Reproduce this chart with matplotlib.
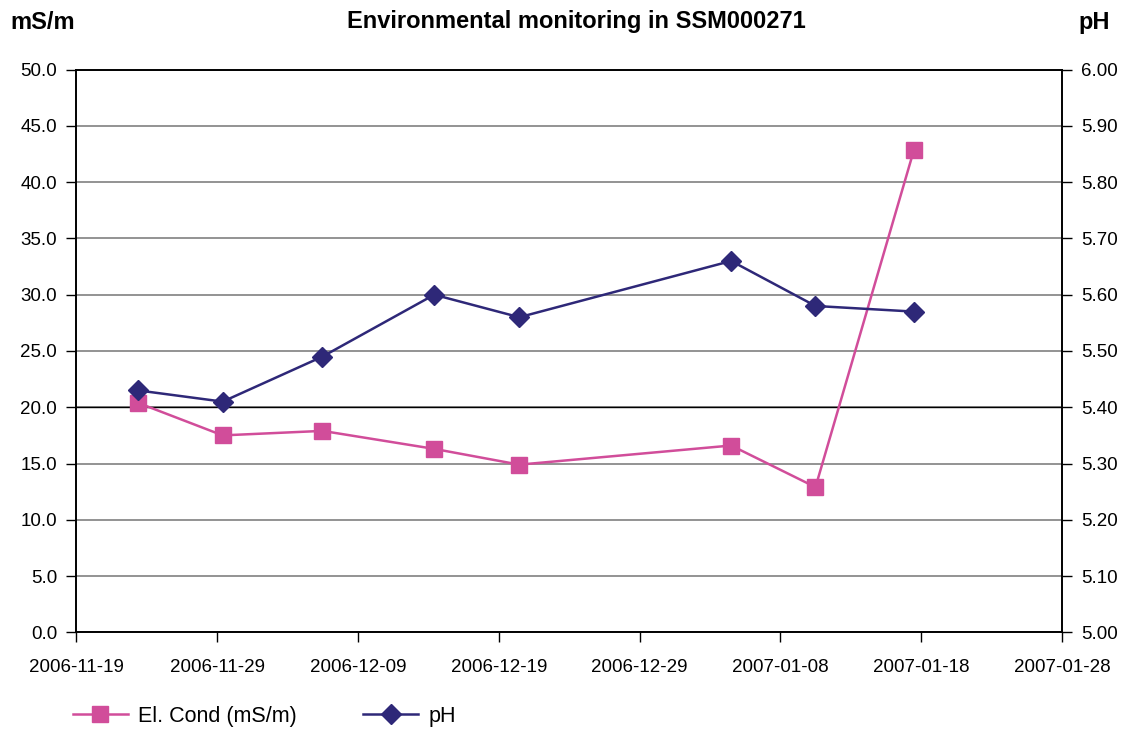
import numpy as np
import pandas as pd
import matplotlib
matplotlib.use("Agg")
import matplotlib.pyplot as plt
import matplotlib.dates as mdates
from matplotlib.ticker import FormatStrFormatter, MultipleLocator

plt.rcParams['font.family'] = ['Liberation Sans', 'DejaVu Sans']

# Sampling times and measured values
fechas = pd.to_datetime([
    '2006-11-23 08:30', '2006-11-29 09:20', '2006-12-06 11:15', '2006-12-14 09:50',
    '2006-12-20 10:50', '2007-01-04 12:00', '2007-01-10 11:45', '2007-01-17 11:45',
])
cond = [20.4, 17.5, 17.9, 16.3, 14.9, 16.6, 12.9, 42.9]     # El. Cond (mS/m)
ph = [5.43, 5.41, 5.49, 5.60, 5.56, 5.66, 5.58, 5.57]

col_cond = '#D14D9A'
col_ph = '#2E2878'

fig = plt.figure(figsize=(11.21, 7.31), dpi=100)
ax1 = fig.add_axes([0.0682, 0.135, 0.8792, 0.7697])
ax2 = ax1.twinx()

# Grid lines shared by both axes
ax1.set_axisbelow(True)
ax1.yaxis.grid(True, color='#808080', linewidth=1.2)
ax1.axhline(20.0, color='black', linewidth=1.0, zorder=1)

l1, = ax1.plot(fechas, cond, color=col_cond, linewidth=1.8, marker='s',
               markersize=11, markeredgecolor=col_cond, label='El. Cond (mS/m)', zorder=3)
l2, = ax2.plot(fechas, ph, color=col_ph, linewidth=1.8, marker='D',
               markersize=10, markeredgecolor=col_ph, label='pH', zorder=3)

ax1.set_ylim(0, 50)
ax2.set_ylim(5.0, 6.0)
ax1.yaxis.set_major_locator(MultipleLocator(5))
ax2.yaxis.set_major_locator(MultipleLocator(0.1))
ax1.yaxis.set_major_formatter(FormatStrFormatter('%.1f'))
ax2.yaxis.set_major_formatter(FormatStrFormatter('%.2f'))

x0 = pd.Timestamp('2006-11-19')
ticks = [x0 + pd.Timedelta(days=10 * k) for k in range(8)]
ax1.set_xlim(ticks[0], ticks[-1])
ax1.set_xticks(ticks)
ax1.xaxis.set_major_formatter(mdates.DateFormatter('%Y-%m-%d'))

for ax in (ax1, ax2):
    for s in ax.spines.values():
        s.set_color('black')
        s.set_linewidth(1.2)
    ax.tick_params(labelsize=13.5, length=7, width=1, colors='black', direction='out', pad=7)
ax1.tick_params(axis='x', pad=12.5)
ax2.tick_params(axis='y', pad=6.5)

fig.text(0.009, 0.969, 'mS/m', fontsize=17, fontweight='bold', va='center', ha='left')
fig.text(0.99, 0.969, 'pH', fontsize=17, fontweight='bold', va='center', ha='right')
fig.text(0.514, 0.970, 'Environmental monitoring in SSM000271', fontsize=17,
         fontweight='bold', va='center', ha='center')

fig.legend(handles=[l1, l2], loc='center left', bbox_to_anchor=(0.0478, 0.02),
           ncol=2, frameon=False, fontsize=15.5, handlelength=2.55,
           columnspacing=3.1, handletextpad=0.47)

fig.savefig('out.png', dpi=100)
